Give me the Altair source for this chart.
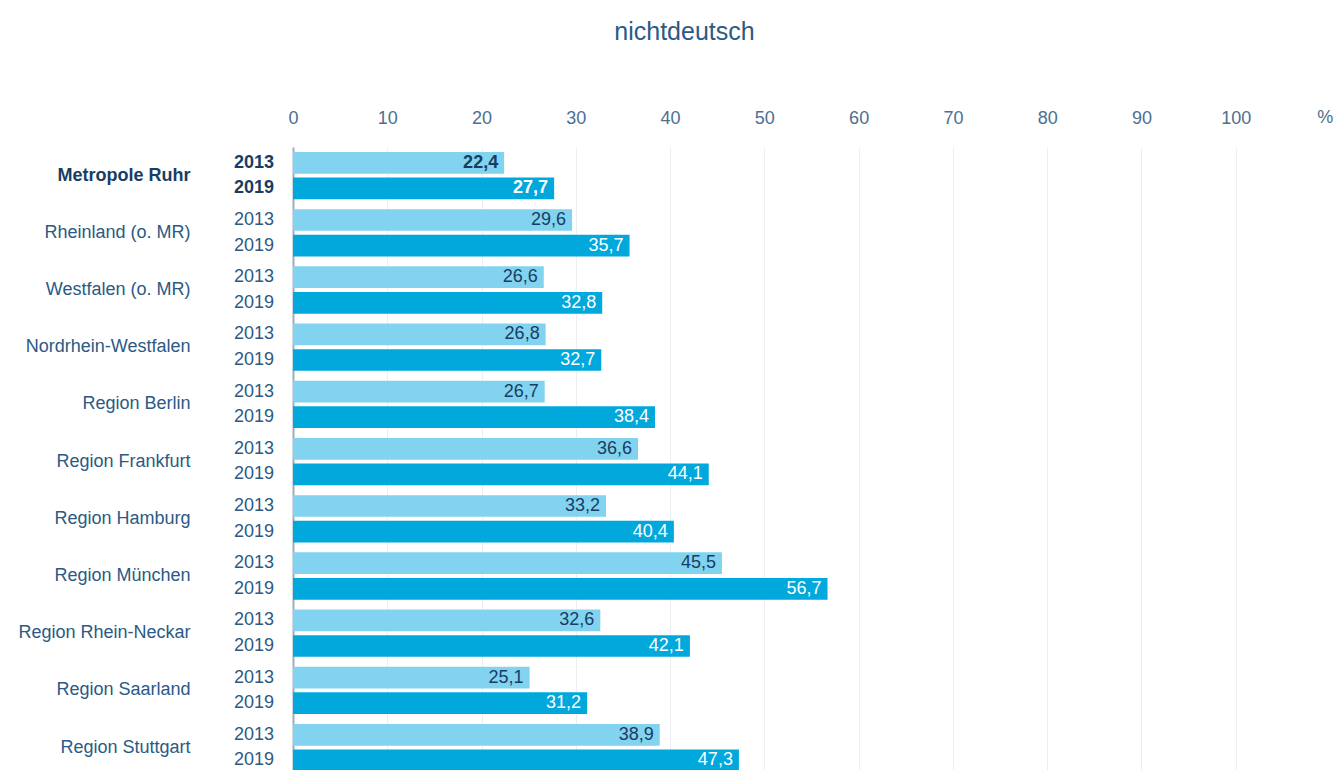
import altair as alt
import pandas as pd

regions = ["Metropole Ruhr", "Rheinland (o. MR)", "Westfalen (o. MR)", "Nordrhein-Westfalen",
           "Region Berlin", "Region Frankfurt", "Region Hamburg", "Region München",
           "Region Rhein-Neckar", "Region Saarland", "Region Stuttgart"]
years = ["2013", "2019"]
values_2013 = [22.4, 29.6, 26.6, 26.8, 26.7, 36.6, 33.2, 45.5, 32.6, 25.1, 38.9]
values_2019 = [27.7, 35.7, 32.8, 32.7, 38.4, 44.1, 40.4, 56.7, 42.1, 31.2, 47.3]
x_ticks = [0, 10, 20, 30, 40, 50, 60, 70, 80, 90, 100]

rows = []
for r, a, b in zip(regions, values_2013, values_2019):
    for y, v in zip(years, (a, b)):
        rows.append({"region": r, "year": y, "value": v,
                     "label": f"{v:.1f}".replace(".", ","),
                     "ruhr": r == "Metropole Ruhr"})
df = pd.DataFrame(rows)

FONT = "Liberation Sans"
TXT = "#2b5a85"
BOLD_TXT = "#183d63"
LIGHT = "#82d3ef"
DARK = "#00a8dc"
AXIS_TXT = "#4d6f90"

y_enc = alt.Y("region:N", sort=regions,
              scale=alt.Scale(paddingInner=0.1034, paddingOuter=0.0517, range=[0, 629.2]),
              axis=alt.Axis(title=None, ticks=False, domain=True, domainColor="#9fadbb",
                            domainWidth=2, labelPadding=103, labelFontSize=18,
                            labelFont=FONT, grid=False,
                            labelColor=alt.expr(f"datum.value == 'Metropole Ruhr' ? '{BOLD_TXT}' : '{TXT}'"),
                            labelFontWeight=alt.expr("datum.value == 'Metropole Ruhr' ? 'bold' : 'normal'")))
yoff = alt.YOffset("year:N", sort=years, scale=alt.Scale(paddingInner=0.154, paddingOuter=0.077))

x_enc = alt.X("value:Q", scale=alt.Scale(domain=[0, 110], nice=False),
              axis=alt.Axis(title=None, orient="top", values=x_ticks, ticks=False, domain=False,
                            grid=True, gridColor="#eceef3", labelFontSize=18, labelFont=FONT,
                            labelColor=AXIS_TXT, labelPadding=20, labelFlush=False, format="d"))

base = alt.Chart(df)

bars = base.mark_bar().encode(
    x=x_enc, y=y_enc, yOffset=yoff,
    color=alt.Color("year:N", scale=alt.Scale(domain=years, range=[LIGHT, DARK]), legend=None),
)

def val_text(yr, color, bold):
    return base.transform_filter(
        f"datum.year == '{yr}' && datum.ruhr == {'true' if bold else 'false'}"
    ).mark_text(align="right", baseline="middle", dx=-6, fontSize=18, font=FONT,
                fontWeight="bold" if bold else "normal", color=color).encode(
        x="value:Q", y=alt.Y("region:N", sort=regions), yOffset=yoff, text="label:N")

def year_text(bold):
    return base.transform_filter(
        f"datum.ruhr == {'true' if bold else 'false'}"
    ).mark_text(align="right", baseline="middle", fontSize=18, font=FONT,
                fontWeight="bold" if bold else "normal",
                color=BOLD_TXT if bold else TXT).encode(
        x=alt.value(-19), y=alt.Y("region:N", sort=regions), yOffset=yoff, text="year:N")

pct = alt.Chart(pd.DataFrame({"t": ["%"]})).mark_text(
    fontSize=18, font=FONT, color=AXIS_TXT, baseline="middle", align="center"
).encode(x=alt.datum(109.5), y=alt.value(-29), text="t:N")

chart = alt.layer(
    bars,
    val_text("2013", BOLD_TXT, False), val_text("2013", BOLD_TXT, True),
    val_text("2019", "white", False), val_text("2019", "white", True),
    year_text(False), year_text(True), pct,
).properties(
    width=1037, height=623, background="white",
    autosize=alt.AutoSizeParams(type="none"),
    padding={"left": 285, "top": 139, "right": 4, "bottom": 0},
    title=alt.Title("nichtdeutsch", fontSize=25, font=FONT, fontWeight="normal",
                    color="#2c5a84", anchor="middle", frame="group", offset=64, dx=-127),
).configure_view(stroke=None)

chart.save("out.html", embed_options={"renderer": "svg", "actions": False})
